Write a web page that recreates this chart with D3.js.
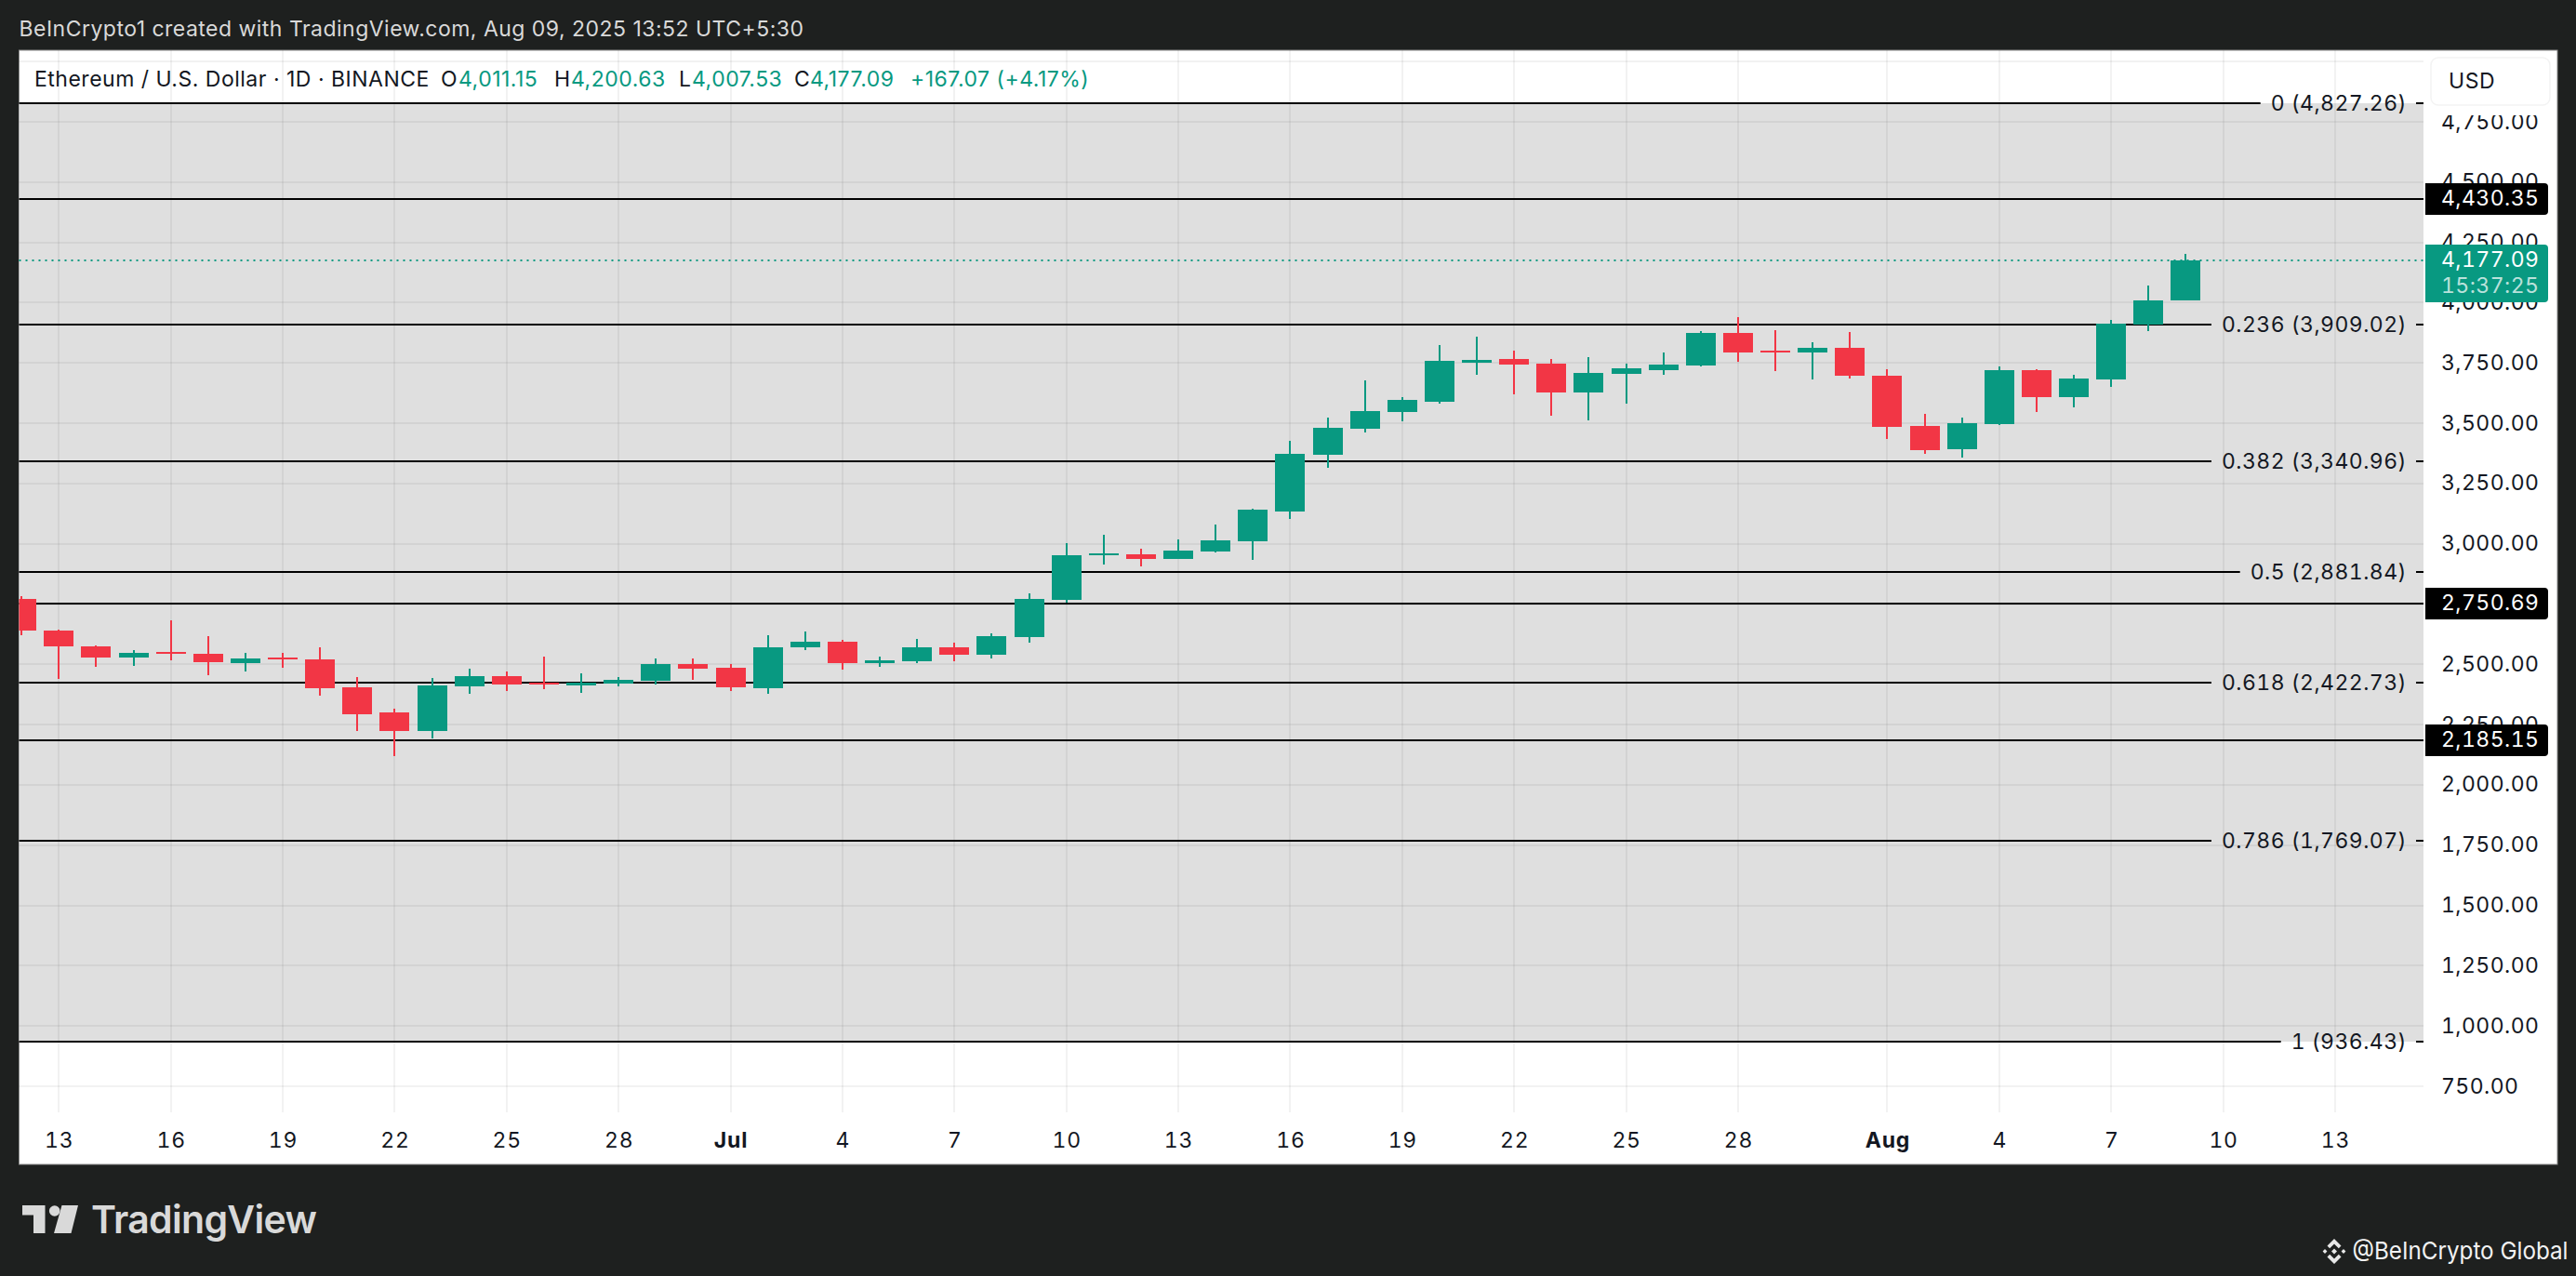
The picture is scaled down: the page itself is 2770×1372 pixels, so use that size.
<!DOCTYPE html>
<html>
<head>
<meta charset="utf-8">
<title>ETH/USD</title>
<script src="https://cdn.jsdelivr.net/npm/d3@7"></script>
<style>
  html, body { margin: 0; padding: 0; background: #1e201f; }
  svg { display: block; }
  text { font-family: Inter, sans-serif; font-feature-settings: 'tnum'; }
  text.plain { font-feature-settings: normal; }
</style>
</head>
<body>
<div id="chart"></div>
<script>
const candleDates = [
  '2025-06-12','2025-06-13','2025-06-14','2025-06-15','2025-06-16','2025-06-17','2025-06-18','2025-06-19','2025-06-20','2025-06-21',
  '2025-06-22','2025-06-23','2025-06-24','2025-06-25','2025-06-26','2025-06-27','2025-06-28','2025-06-29','2025-06-30','2025-07-01',
  '2025-07-02','2025-07-03','2025-07-04','2025-07-05','2025-07-06','2025-07-07','2025-07-08','2025-07-09','2025-07-10','2025-07-11',
  '2025-07-12','2025-07-13','2025-07-14','2025-07-15','2025-07-16','2025-07-17','2025-07-18','2025-07-19','2025-07-20','2025-07-21',
  '2025-07-22','2025-07-23','2025-07-24','2025-07-25','2025-07-26','2025-07-27','2025-07-28','2025-07-29','2025-07-30','2025-07-31',
  '2025-08-01','2025-08-02','2025-08-03','2025-08-04','2025-08-05','2025-08-06','2025-08-07','2025-08-08','2025-08-09',
];
const opens = [
  2771.2,2640.1,2574.5,2528.2,2551.4,2543.6,2505.1,2528.2,2520.5,2404.8,
  2300.6,2223.5,2408.6,2451.1,2424.1,2412.5,2420.2,2431.8,2501.2,2485.8,
  2400.9,2570.6,2593.8,2505.1,2512.8,2570.6,2539.8,2613.1,2767.4,2952.5,
  2956.4,2937.1,2967.9,3010.4,3133.8,3369.1,3477.1,3546.5,3589.0,3750.9,
  3766.4,3747.1,3627.5,3704.7,3720.1,3739.4,3874.4,3801.1,3793.4,3812.7,
  3697.0,3488.7,3392.3,3496.4,3720.1,3608.3,3681.5,3909.1,4011.15,
];
const highs = [
  2782.8,2643.9,2578.4,2559.1,2682.5,2616.9,2547.5,2547.5,2570.6,2447.2,
  2316.1,2443.3,2481.9,2470.4,2532.1,2462.6,2447.2,2524.3,2524.3,2501.2,
  2620.8,2636.2,2601.5,2532.1,2605.3,2589.9,2628.5,2794.4,3002.6,3037.4,
  2979.5,3018.1,3079.8,3145.4,3427.0,3523.4,3677.7,3608.2,3824.3,3859.0,
  3801.1,3766.4,3774.1,3747.1,3793.4,3882.1,3940.0,3886.0,3835.8,3878.3,
  3724.0,3538.8,3523.4,3735.6,3724.0,3700.8,3928.4,4071.1,4200.63,
];
const lows = [
  2620.8,2439.5,2489.6,2493.5,2516.6,2454.9,2470.4,2485.8,2370.1,2223.5,
  2119.3,2192.6,2377.8,2389.4,2397.1,2381.6,2408.6,2416.3,2435.6,2389.3,
  2377.8,2559.1,2478.1,2489.6,2505.1,2512.8,2524.3,2589.9,2755.8,2913.9,
  2906.2,2937.1,2964.1,2933.2,3103.0,3315.1,3461.7,3508.0,3581.2,3700.8,
  3619.8,3531.1,3511.8,3581.2,3700.8,3735.5,3754.8,3716.2,3681.5,3685.4,
  3434.7,3372.9,3357.5,3492.6,3546.5,3565.8,3650.7,3882.1,4007.53,
];
const closes = [
  2640.1,2574.5,2528.2,2547.5,2543.6,2508.9,2524.3,2520.5,2400.9,2292.9,
  2223.5,2412.5,2451.1,2416.4,2416.4,2424.1,2435.6,2501.2,2481.9,2404.8,
  2570.6,2593.8,2505.1,2516.6,2570.6,2539.8,2616.9,2771.2,2952.5,2960.2,
  2937.1,2971.8,3014.2,3141.5,3373.0,3481.0,3550.4,3596.7,3758.7,3762.5,
  3743.2,3627.5,3708.5,3727.8,3743.2,3874.4,3793.4,3793.4,3812.7,3697.0,
  3484.8,3388.4,3500.3,3720.1,3608.3,3685.4,3913.0,4009.4,4177.09,
];

const priceTicks = [750,1000,1250,1500,1750,2000,2250,2500,2750,3000,3250,3500,3750,4000,4250,4500,4750];
const gridPrices = [...priceTicks, 5000];
const timeTickDates = [
  '2025-06-13','2025-06-16','2025-06-19','2025-06-22','2025-06-25','2025-06-28','2025-07-01','2025-07-04','2025-07-07','2025-07-10',
  '2025-07-13','2025-07-16','2025-07-19','2025-07-22','2025-07-25','2025-07-28','2025-08-01','2025-08-04','2025-08-07','2025-08-10','2025-08-13',
];
const timeTickLabels = ['13','16','19','22','25','28','Jul','4','7','10','13','16','19','22','25','28','Aug','4','7','10','13'];

// fib retracement levels, right side labels
const fibRatios = ['0','0.236','0.382','0.5','0.618','0.786','1'];
const fibPrices = [4827.26,3909.02,3340.96,2881.84,2422.73,1769.07,936.43];
// plain horizontal lines with a black price badge
const linePrices = [4430.35,2750.69,2185.15];
const lastPrice = 4177.09;

const titleText = 'BeInCrypto1 created with TradingView.com, Aug 09, 2025 13:52 UTC+5:30';

const width = 2770;
const height = 1372;
const panel = { left: 20.5, right: 2750, top: 54, bottom: 1252 };
const plotRight = 2606;
const plotBottom = 1196;
const GREEN = '#089981';
const RED = '#f23645';
const INK = '#131722';
const FONT_SIZE = 23;
const AXIS_SPACING = '0.45px';
const FIB_SPACING = '0.45px';

const parse = d3.utcParse('%Y-%m-%d');
const fmt = d3.format(',.2f');

const x = d3.scaleUtc().domain([parse('2025-06-13'), parse('2025-08-13')]).range([63.3, 2511]);
const y = d3.scaleLinear().domain([750, 4750]).range([1168, 131]);
// whole pixels keep the 2px lines and the candle edges crisp
const px = d => Math.round(x(d));
const py = d => Math.round(y(d));

const candles = candleDates.map((d, i) => ({
  date: parse(d),
  open: opens[i],
  high: highs[i],
  low: lows[i],
  close: closes[i],
}));

const svg = d3.select('#chart').append('svg').attr('width', width).attr('height', height);

svg.append('defs').append('clipPath').attr('id', 'plot-clip')
  .append('rect')
  .attr('x', panel.left).attr('y', panel.top)
  .attr('width', plotRight - panel.left).attr('height', plotBottom - panel.top);

// top watermark line
svg.append('text')
  .attr('class', 'plain')
  .attr('x', 20.5).attr('y', 39)
  .attr('font-size', FONT_SIZE).attr('letter-spacing', '0.48px')
  .attr('fill', '#d9d9d9')
  .text(titleText);

svg.append('rect')
  .attr('x', panel.left).attr('y', panel.top)
  .attr('width', panel.right - panel.left).attr('height', panel.bottom - panel.top)
  .attr('fill', '#fff').attr('stroke', '#8a8a8a').attr('stroke-width', 1);

// fib background
svg.append('rect')
  .attr('x', panel.left).attr('y', py(d3.max(fibPrices)))
  .attr('width', plotRight - panel.left)
  .attr('height', py(d3.min(fibPrices)) - py(d3.max(fibPrices)))
  .attr('fill', '#dfdfdf');

// grid
const grid = svg.append('g').attr('stroke', 'rgba(0,0,0,0.05)').attr('stroke-width', 2);
grid.selectAll('line.v').data(timeTickDates).join('line')
  .attr('class', 'v')
  .attr('x1', d => px(parse(d))).attr('x2', d => px(parse(d)))
  .attr('y1', panel.top).attr('y2', plotBottom);
grid.selectAll('line.h').data(gridPrices).join('line')
  .attr('class', 'h')
  .attr('x1', panel.left).attr('x2', plotRight)
  .attr('y1', d => py(d)).attr('y2', d => py(d));

// horizontal levels
const levels = svg.append('g').attr('stroke', '#000').attr('stroke-width', 2);
levels.selectAll('line').data(linePrices).join('line')
  .attr('x1', panel.left).attr('x2', plotRight)
  .attr('y1', d => py(d)).attr('y2', d => py(d));

const fibGroup = svg.append('g');
fibRatios.forEach((ratio, i) => {
  const ly = py(fibPrices[i]);
  const label = fibGroup.append('text')
    .attr('x', 2588).attr('y', ly + 8)
    .attr('text-anchor', 'end')
    .attr('font-size', FONT_SIZE).attr('letter-spacing', FIB_SPACING)
    .attr('fill', INK)
    .text(`${ratio} (${fmt(fibPrices[i])})`);
  const labelWidth = label.node().getComputedTextLength();
  fibGroup.append('line')
    .attr('x1', panel.left).attr('x2', 2588 - labelWidth - 11)
    .attr('y1', ly).attr('y2', ly)
    .attr('stroke', '#000').attr('stroke-width', 2);
  fibGroup.append('line')
    .attr('x1', 2598).attr('x2', plotRight)
    .attr('y1', ly).attr('y2', ly)
    .attr('stroke', '#000').attr('stroke-width', 2);
});

// last price dotted line
svg.append('line')
  .attr('x1', panel.left).attr('x2', plotRight)
  .attr('y1', py(lastPrice)).attr('y2', py(lastPrice))
  .attr('stroke', GREEN).attr('stroke-width', 2).attr('stroke-dasharray', '2 5');

// candles
const candleG = svg.append('g').attr('clip-path', 'url(#plot-clip)');
const candleColor = d => (d.close >= d.open ? GREEN : RED);
candleG.selectAll('line').data(candles).join('line')
  .attr('x1', d => px(d.date)).attr('x2', d => px(d.date))
  .attr('y1', d => py(d.high)).attr('y2', d => py(d.low))
  .attr('stroke', candleColor).attr('stroke-width', 2);
candleG.selectAll('rect').data(candles).join('rect')
  .attr('x', d => px(d.date) - 16)
  .attr('width', 32)
  .attr('y', d => py(Math.max(d.open, d.close)))
  .attr('height', d => Math.max(2, py(Math.min(d.open, d.close)) - py(Math.max(d.open, d.close))))
  .attr('fill', candleColor);

// price axis
const yAxis = d3.axisRight(y).tickValues(priceTicks).tickFormat(fmt).tickSize(0).tickPadding(0);
const yAxisG = svg.append('g').attr('transform', 'translate(2625,0)').call(yAxis);
yAxisG.select('.domain').remove();
yAxisG.selectAll('text')
  .attr('font-family', 'Inter, sans-serif')
  .attr('font-size', FONT_SIZE).attr('letter-spacing', AXIS_SPACING)
  .attr('fill', INK)
  .attr('dy', 7);

// the USD button hides the top of the first label
svg.append('rect')
  .attr('x', 2607).attr('y', panel.top + 1)
  .attr('width', panel.right - 2608).attr('height', 69)
  .attr('fill', '#fff');
svg.append('rect')
  .attr('x', 2614).attr('y', 62)
  .attr('width', 128).attr('height', 51).attr('rx', 8)
  .attr('fill', '#fff').attr('stroke', '#f3f3f3').attr('stroke-width', 1.5);
svg.append('text')
  .attr('x', 2633).attr('y', 95)
  .attr('font-size', FONT_SIZE).attr('letter-spacing', '0.6px')
  .attr('fill', INK)
  .text('USD');

// price badges
const badgePath = (top, h) => {
  const p = d3.path();
  p.moveTo(2608, top);
  p.lineTo(2736, top);
  p.arcTo(2740, top, 2740, top + 4, 4);
  p.lineTo(2740, top + h - 4);
  p.arcTo(2740, top + h, 2736, top + h, 4);
  p.lineTo(2608, top + h);
  p.closePath();
  return p.toString();
};
linePrices.forEach(price => {
  const ly = py(price);
  svg.append('path').attr('d', badgePath(ly - 17, 34)).attr('fill', '#000');
  svg.append('text')
    .attr('x', 2625).attr('y', ly + 7)
    .attr('font-size', FONT_SIZE).attr('letter-spacing', AXIS_SPACING)
    .attr('fill', '#fff')
    .text(fmt(price));
});
const lastY = py(lastPrice);
svg.append('path').attr('d', badgePath(lastY - 17, 62)).attr('fill', GREEN);
svg.append('text')
  .attr('x', 2625).attr('y', lastY + 7)
  .attr('font-size', FONT_SIZE).attr('letter-spacing', AXIS_SPACING)
  .attr('fill', '#fff')
  .text(fmt(lastPrice));
svg.append('text')
  .attr('x', 2625).attr('y', lastY + 35)
  .attr('font-size', FONT_SIZE).attr('letter-spacing', AXIS_SPACING)
  .attr('fill', 'rgba(255,255,255,0.72)')
  .text('15:37:25');

// time axis
const xAxis = d3.axisBottom(x)
  .tickValues(timeTickDates.map(parse))
  .tickFormat((d, i) => timeTickLabels[i])
  .tickSize(0).tickPadding(0);
const xAxisG = svg.append('g').attr('transform', 'translate(0,1234)').call(xAxis);
xAxisG.select('.domain').remove();
xAxisG.selectAll('text')
  .attr('font-family', 'Inter, sans-serif')
  .attr('font-size', FONT_SIZE).attr('letter-spacing', '0.8px')
  .attr('font-weight', (d, i) => (/[a-z]/i.test(timeTickLabels[i]) ? 700 : 400))
  .attr('fill', INK)
  .attr('dy', 0);

// legend row
const legendParts = [
  { x: 37, text: 'Ethereum / U.S. Dollar · 1D · BINANCE', fill: INK },
  { x: 474, text: 'O', fill: INK },
  { x: 493, text: '4,011.15', fill: GREEN },
  { x: 596, text: 'H', fill: INK },
  { x: 614, text: '4,200.63', fill: GREEN },
  { x: 730, text: 'L', fill: INK },
  { x: 744, text: '4,007.53', fill: GREEN },
  { x: 854, text: 'C', fill: INK },
  { x: 871, text: '4,177.09', fill: GREEN },
  { x: 979, text: '+167.07 (+4.17%)', fill: GREEN },
];
svg.append('g').selectAll('text').data(legendParts).join('text')
  .attr('class', 'plain')
  .attr('x', d => d.x).attr('y', 93)
  .attr('font-size', FONT_SIZE).attr('letter-spacing', '0.5px')
  .attr('fill', d => d.fill)
  .text(d => d.text);

// TradingView logo
const logo = svg.append('g').attr('fill', '#d9d9d9');
logo.append('path').attr('d', 'M24 1296H48.5V1326H36V1306.5H24Z');
logo.append('circle').attr('cx', 58.7).attr('cy', 1302).attr('r', 5.8);
logo.append('path').attr('d', 'M66.5 1296H84L76.5 1326H58Z');
logo.append('text')
  .attr('class', 'plain')
  .attr('x', 98).attr('y', 1326)
  .attr('font-size', 41).attr('font-weight', 600)
  .attr('letter-spacing', '-0.7px')
  .text('TradingView');

// bottom right credit
const binance = svg.append('g').attr('fill', '#e8e8e8').attr('transform', 'translate(2510,1345.5)');
[
  'M0 -13.5L7.5 -6L4.8 -3.3L0 -8.1L-4.8 -3.3L-7.5 -6Z',
  'M0 13.5L7.5 6L4.8 3.3L0 8.1L-4.8 3.3L-7.5 6Z',
  'M0 -3L3 0L0 3L-3 0Z',
  'M-10 -2.4L-7.6 0L-10 2.4L-12.4 0Z',
  'M10 -2.4L12.4 0L10 2.4L7.6 0Z',
].forEach(d => binance.append('path').attr('d', d));
svg.append('text')
  .attr('class', 'plain')
  .attr('x', 2529.5).attr('y', 1354)
  .attr('font-family', '"Noto Sans", sans-serif')
  .attr('font-size', 26)
  .attr('textLength', 232).attr('lengthAdjust', 'spacingAndGlyphs')
  .attr('fill', '#f2f2f2')
  .text('@BeInCrypto Global');
</script>
</body>
</html>
